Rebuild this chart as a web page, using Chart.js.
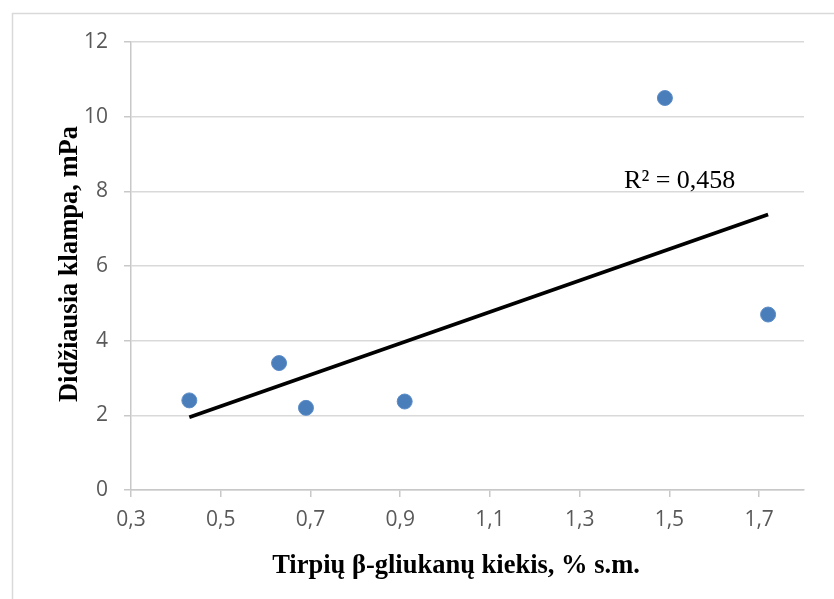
<!DOCTYPE html>
<html>
<head>
<meta charset="utf-8">
<script src="https://cdn.jsdelivr.net/npm/chart.js@4.4.0/dist/chart.umd.min.js"></script>
<style>
  body { margin: 0; background: #fff; }
  .wrap { width: 834px; height: 599px; position: relative; }
</style>
</head>
<body>
<div class="wrap"><canvas id="klampa"></canvas></div>
<script>
// duomenys (nuskaityta is paveikslo)
const gliukanai = [0.43, 0.63, 0.69, 0.91, 1.49, 1.72];
const klampa = [2.4, 3.4, 2.2, 2.37, 10.5, 4.7];
const trendX = [0.43, 1.72];
const trendY = [1.95, 7.38];
const xTicks = [0.3, 0.5, 0.7, 0.9, 1.1, 1.3, 1.5, 1.7];
const yTicks = [0, 2, 4, 6, 8, 10, 12];
const r2Text = "R² = 0,458";
const xTitle = "Tirpių β-gliukanų kiekis, % s.m.";
const yTitle = "Didžiausia klampa, mPa";

const points = gliukanai.map((x, i) => ({ x: x, y: klampa[i] }));
const trend = trendX.map((x, i) => ({ x: x, y: trendY[i] }));

const ctx = document.getElementById("klampa").getContext("2d");

const frame = {
  id: "frame",
  beforeDraw(chart) {
    const c = chart.ctx;
    c.save();
    c.strokeStyle = "#d9d9d9";
    c.lineWidth = 1.5;
    c.beginPath();
    c.moveTo(12.5, 700);
    c.lineTo(12.5, 13.5);
    c.lineTo(900, 13.5);
    c.stroke();
    c.restore();
  },
};

const labels = {
  id: "labels",
  afterDraw(chart) {
    const c = chart.ctx;
    const xs = chart.scales.x;
    const ys = chart.scales.y;
    c.save();
    c.fillStyle = "#000";
    c.textAlign = "center";
    c.textBaseline = "middle";
    c.font = 'bold 26.5px "Liberation Serif"';
    c.fillText(xTitle, 456, 566);
    c.translate(70, 264);
    c.rotate(-Math.PI / 2);
    c.fillText(yTitle, 0, 0);
    c.restore();

    c.save();
    c.fillStyle = "#000";
    c.font = '26px "Liberation Serif"';
    c.textAlign = "center";
    c.textBaseline = "alphabetic";
    c.fillText(r2Text, xs.getPixelForValue(1.523), ys.getPixelForValue(8.1));
    c.restore();
  },
};

new Chart(ctx, {
  type: "scatter",
  data: {
    datasets: [
      {
        label: "klampa",
        data: points,
        backgroundColor: "#4a7ebb",
        borderColor: "#5b8cc8",
        borderWidth: 1,
        pointRadius: 7.5,
        pointHoverRadius: 7.5,
        order: 2,
      },
      {
        label: "trend",
        data: trend,
        showLine: true,
        borderColor: "#000",
        borderWidth: 3.8,
        pointRadius: 0,
        fill: false,
        order: 1,
      },
    ],
  },
  options: {
    responsive: true,
    maintainAspectRatio: false,
    animation: false,
    layout: { padding: { left: 0, top: 42, right: 30, bottom: 0 } },
    plugins: {
      legend: { display: false },
      tooltip: { enabled: false },
    },
    scales: {
      x: {
        type: "linear",
        min: 0.3,
        max: 1.8,
        afterBuildTicks: (scale) => {
          scale.ticks = xTicks.map((v) => ({ value: v }));
        },
        afterFit: (scale) => {
          scale.height = 109;
        },
        grid: {
          drawOnChartArea: false,
          color: "#c8c8c8",
          tickLength: 7,
          lineWidth: 1.5,
        },
        border: { color: "#c8c8c8", width: 1.5 },
        ticks: {
          color: "#595959",
          font: { family: "Open Sans", size: 21 },
          padding: 10,
          maxRotation: 0,
          callback: (v) => v.toFixed(1).replace(".", ","),
        },
      },
      y: {
        min: 0,
        max: 12,
        afterBuildTicks: (scale) => {
          scale.ticks = yTicks.map((v) => ({ value: v }));
        },
        afterFit: (scale) => {
          scale.width = 131;
        },
        grid: {
          color: "#d9d9d9",
          tickColor: "#c8c8c8",
          tickLength: 7,
          lineWidth: 1.5,
        },
        border: { color: "#c8c8c8", width: 1.5 },
        ticks: {
          color: "#595959",
          font: { family: "Open Sans", size: 21 },
          padding: 16,
          callback: (v) => String(v),
        },
      },
    },
  },
  plugins: [frame, labels],
});
</script>
</body>
</html>
